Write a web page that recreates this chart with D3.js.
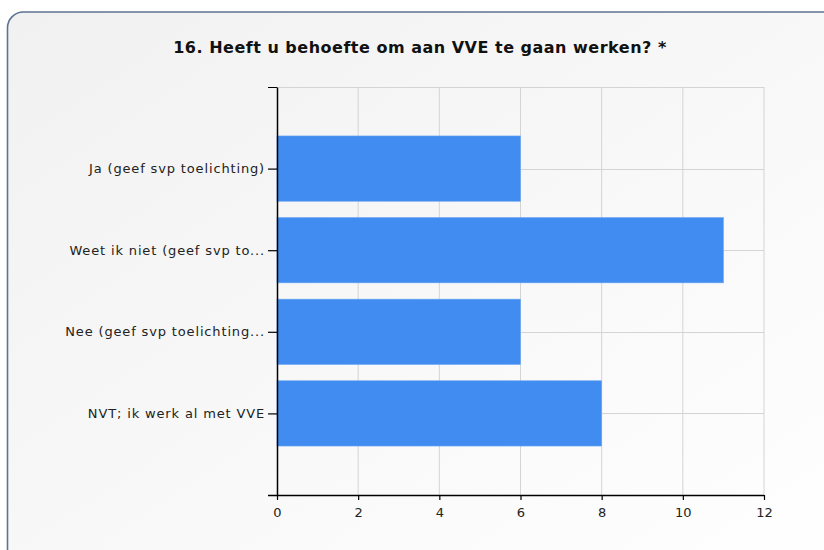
<!DOCTYPE html>
<html>
<head>
<meta charset="utf-8">
<script src="https://cdn.jsdelivr.net/npm/d3@7"></script>
<style>
  body { margin: 0; background: #fff; }
  text { font-family: "DejaVu Sans", Verdana, sans-serif; }
</style>
</head>
<body>
<svg id="chart"></svg>
<script>
const title = '16. Heeft u behoefte om aan VVE te gaan werken? *'
const categories = ['Ja (geef svp toelichting)', 'Weet ik niet (geef svp to...', 'Nee (geef svp toelichting...', 'NVT; ik werk al met VVE']
const counts = [6, 11, 6, 8]
const xTicks = [0, 2, 4, 6, 8, 10, 12]

const W = 824, H = 550
const margin = {top: 87, right: 60, bottom: 55, left: 277}
const width = W - margin.left - margin.right
const height = H - margin.top - margin.bottom

const svg = d3.select('#chart')
    .attr('width', W)
    .attr('height', H)

// panel background
const defs = svg.append('defs')
const grad = defs.append('linearGradient')
    .attr('id', 'bg')
    .attr('x1', '0').attr('y1', '0')
    .attr('x2', '1').attr('y2', '1')
grad.append('stop').attr('offset', '0%').attr('stop-color', '#f1f1f1')
grad.append('stop').attr('offset', '100%').attr('stop-color', '#ffffff')

svg.append('rect')
    .attr('x', 7.5).attr('y', 12)
    .attr('width', 840).attr('height', 570)
    .attr('rx', 16)
    .attr('fill', 'url(#bg)')
    .attr('stroke', '#5d7393')
    .attr('stroke-width', 1.6)

svg.append('text')
    .attr('x', 420)
    .attr('y', 53)
    .attr('text-anchor', 'middle')
    .attr('font-size', 16)
    .attr('font-weight', 'bold')
    .attr('letter-spacing', 0.5)
    .attr('fill', '#111')
    .text(title)

const chart = svg.append('g')
    .attr('transform', `translate(${margin.left},${margin.top})`)

const xScale = d3.scaleLinear()
    .domain([0, 12])
    .range([0, width])

const yScale = d3.scalePoint()
    .domain(categories)
    .range([0, height])
    .padding(1)

const barH = yScale.step() * 0.8

// grid
chart.selectAll('.vgrid')
    .data(xTicks.slice(1))
    .join('line')
        .attr('class', 'vgrid')
        .attr('x1', d => xScale(d)).attr('x2', d => xScale(d))
        .attr('y1', 0).attr('y2', height)
        .attr('stroke', '#d4d4d4')
chart.selectAll('.hgrid')
    .data([null].concat(categories))
    .join('line')
        .attr('class', 'hgrid')
        .attr('x1', 0).attr('x2', width)
        .attr('y1', d => d === null ? 0.5 : Math.round(yScale(d)) + 0.5)
        .attr('y2', d => d === null ? 0.5 : Math.round(yScale(d)) + 0.5)
        .attr('stroke', '#d4d4d4')

// bars
chart.selectAll('.bar')
    .data(categories)
    .join('rect')
        .attr('class', 'bar')
        .attr('x', 0)
        .attr('y', d => yScale(d) - barH / 2)
        .attr('width', (d, i) => xScale(counts[i]))
        .attr('height', barH)
        .attr('fill', '#418cf0')
        .attr('stroke', '#6aa5f4')
        .attr('stroke-width', 0.6)

// axes
const xAxis = d3.axisBottom(xScale)
    .tickValues(xTicks)
    .tickSize(5)
    .tickSizeOuter(0)
    .tickPadding(8)
const yAxis = d3.axisLeft(yScale)
    .tickSize(9)
    .tickSizeOuter(0)
    .tickPadding(3)

const xAxisG = chart.append('g')
    .attr('transform', `translate(0,${height})`)
    .call(xAxis)
const yAxisG = chart.append('g')
    .call(yAxis)

// baseline extends to the left like the top tick
xAxisG.select('.domain').attr('d', `M-9,0.5H${width}`)
yAxisG.append('line')
    .attr('x1', -9).attr('x2', 0)
    .attr('y1', 0.5).attr('y2', 0.5)
    .attr('stroke', '#000')

chart.selectAll('.domain').attr('stroke', '#000').attr('stroke-width', 1.5)
chart.selectAll('.tick line').attr('stroke', '#000').attr('stroke-width', 1.2)
chart.selectAll('.tick text')
    .attr('font-family', '"DejaVu Sans", Verdana, sans-serif')
    .attr('font-size', 13)
    .attr('fill', '#222')
yAxisG.selectAll('.tick text').attr('letter-spacing', 0.85)
</script>
</body>
</html>
